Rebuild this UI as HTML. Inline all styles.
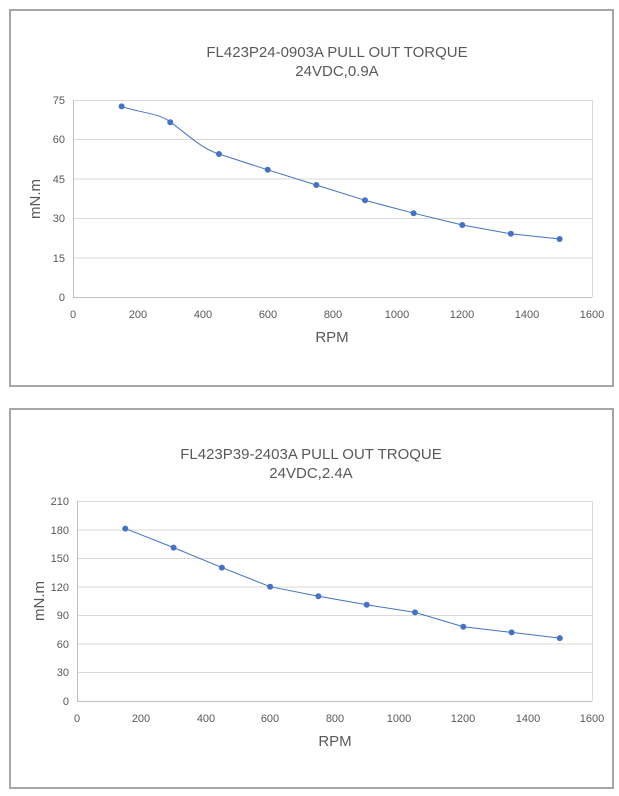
<!DOCTYPE html><html><head><style>body{margin:0;background:#fff}svg{display:block}text{font-family:"Liberation Sans",sans-serif;fill:#595959}</style></head><body>
<svg width="619" height="796" viewBox="0 0 619 796">
<rect x="10" y="10" width="603" height="376" fill="#fff" stroke="#a6a6a6" stroke-width="2"/>
<rect x="10" y="409" width="603" height="379" fill="#fff" stroke="#a6a6a6" stroke-width="2"/>
<g stroke="#d9d9d9" stroke-width="1">
<line x1="73" x2="592" y1="100.5" y2="100.5"/><line x1="73" x2="592" y1="139.5" y2="139.5"/><line x1="73" x2="592" y1="179" y2="179"/><line x1="73" x2="592" y1="218.5" y2="218.5"/><line x1="73" x2="592" y1="258" y2="258"/>
<line x1="592.5" x2="592.5" y1="100" y2="297"/>
<line x1="77" x2="592" y1="501.5" y2="501.5"/><line x1="77" x2="592" y1="530" y2="530"/><line x1="77" x2="592" y1="558.5" y2="558.5"/><line x1="77" x2="592" y1="587" y2="587"/><line x1="77" x2="592" y1="615.5" y2="615.5"/><line x1="77" x2="592" y1="644" y2="644"/><line x1="77" x2="592" y1="672.5" y2="672.5"/>
<line x1="592.5" x2="592.5" y1="501" y2="701"/>
</g>
<g stroke="#bfbfbf"><line x1="73" x2="592" y1="297.5" y2="297.5"/><line x1="73.5" x2="73.5" y1="100" y2="297"/>
<line x1="77" x2="592" y1="701.5" y2="701.5"/><line x1="77.5" x2="77.5" y1="501" y2="701"/></g>
<text x="337" y="57" font-size="15" text-anchor="middle">FL423P24-0903A PULL OUT TORQUE</text>
<text x="337" y="76" font-size="15" text-anchor="middle">24VDC,0.9A</text>
<text x="311" y="459" font-size="15" text-anchor="middle">FL423P39-2403A PULL OUT TROQUE</text>
<text x="311" y="478" font-size="15" text-anchor="middle">24VDC,2.4A</text>
<g font-size="11" text-anchor="end">
<text x="65" y="104">75</text><text x="65" y="143">60</text><text x="65" y="183">45</text><text x="65" y="222">30</text><text x="65" y="262">15</text><text x="65" y="301">0</text>
<text x="69" y="505">210</text><text x="69" y="534">180</text><text x="69" y="562">150</text><text x="69" y="591">120</text><text x="69" y="619">90</text><text x="69" y="648">60</text><text x="69" y="676">30</text><text x="69" y="705">0</text>
</g>
<g font-size="11" text-anchor="middle">
<text x="73" y="318">0</text><text x="138" y="318">200</text><text x="203" y="318">400</text><text x="268" y="318">600</text><text x="333" y="318">800</text><text x="397" y="318">1000</text><text x="462" y="318">1200</text><text x="527" y="318">1400</text><text x="592" y="318">1600</text>
<text x="77" y="722">0</text><text x="141" y="722">200</text><text x="206" y="722">400</text><text x="270" y="722">600</text><text x="335" y="722">800</text><text x="399" y="722">1000</text><text x="463" y="722">1200</text><text x="528" y="722">1400</text><text x="592" y="722">1600</text>
</g>
<text x="332" y="342" font-size="15" text-anchor="middle">RPM</text>
<text x="335" y="746" font-size="15" text-anchor="middle">RPM</text>
<text transform="translate(40,199) rotate(-90)" font-size="15" text-anchor="middle">mN.m</text>
<text transform="translate(44,601) rotate(-90)" font-size="15" text-anchor="middle">mN.m</text>
<path d="M121.6,106.4 C140,113 160,113 170.3,122.2 C185,132 200,148 219,154 L267.7,169.8 L316.3,185 L365,200.3 L413.6,213.2 L462.3,225 L510.9,233.8 L559.6,239" fill="none" stroke="#4472c4" stroke-width="1"/>
<g fill="#4472c4">
<circle cx="121.6" cy="106.4" r="3"/><circle cx="170.3" cy="122.2" r="3"/><circle cx="219" cy="154" r="3"/><circle cx="267.7" cy="169.8" r="3"/><circle cx="316.3" cy="185" r="3"/><circle cx="365" cy="200.3" r="3"/><circle cx="413.6" cy="213.2" r="3"/><circle cx="462.3" cy="225" r="3"/><circle cx="510.9" cy="233.8" r="3"/><circle cx="559.6" cy="239" r="3"/>
</g>
<path d="M125.3,528.6 L173.6,547.6 L221.9,567.6 L270.1,586.7 L318.4,596.2 L366.7,604.8 L415,612.4 L463.3,626.7 L511.6,632.4 L559.8,638.1" fill="none" stroke="#4472c4" stroke-width="1"/>
<g fill="#4472c4">
<circle cx="125.3" cy="528.6" r="3"/><circle cx="173.6" cy="547.6" r="3"/><circle cx="221.9" cy="567.6" r="3"/><circle cx="270.1" cy="586.7" r="3"/><circle cx="318.4" cy="596.2" r="3"/><circle cx="366.7" cy="604.8" r="3"/><circle cx="415" cy="612.4" r="3"/><circle cx="463.3" cy="626.7" r="3"/><circle cx="511.6" cy="632.4" r="3"/><circle cx="559.8" cy="638.1" r="3"/>
</g>
</svg></body></html>
